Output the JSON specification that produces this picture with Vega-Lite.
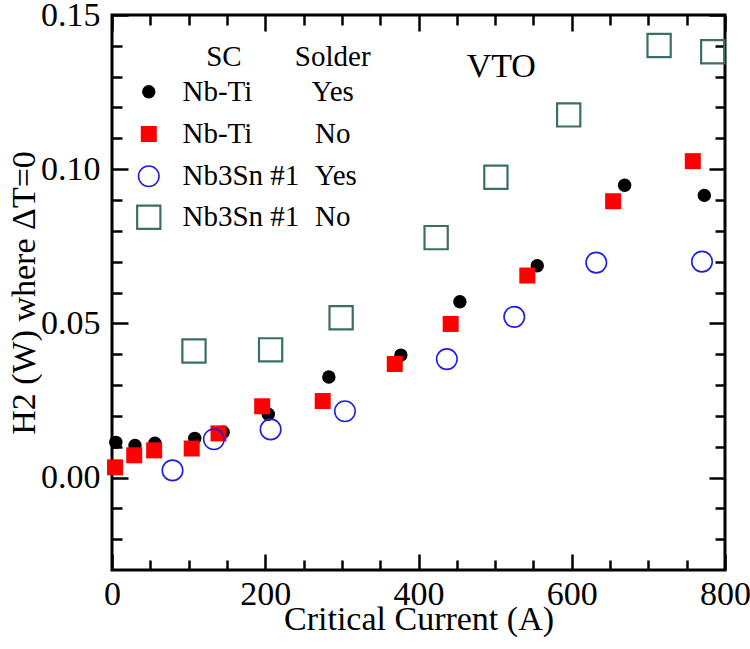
{
  "$schema": "https://vega.github.io/schema/vega-lite/v6.json",
  "width": 613,
  "height": 555,
  "autosize": "none",
  "padding": {"left": 112, "top": 15, "right": 25, "bottom": 79},
  "background": "white",
  "config": {
    "view": {"stroke": "black", "strokeWidth": 3},
    "axis": {
      "domain": false,
      "grid": false,
      "labelFont": "Liberation Serif",
      "labelFontSize": 34,
      "labelColor": "black",
      "tickColor": "black",
      "tickWidth": 2.5,
      "titleFont": "Liberation Serif",
      "titleFontSize": 34,
      "titleFontWeight": "normal",
      "titleColor": "black"
    },
    "text": {"font": "Liberation Serif", "color": "black"}
  },
  "datasets": {
    "pts": [
      {"series": "NbTi_Yes", "I": 5, "H2": 0.0114},
      {"series": "NbTi_Yes", "I": 30, "H2": 0.0104},
      {"series": "NbTi_Yes", "I": 56, "H2": 0.0111},
      {"series": "NbTi_Yes", "I": 108, "H2": 0.0127},
      {"series": "NbTi_Yes", "I": 145, "H2": 0.0147},
      {"series": "NbTi_Yes", "I": 204, "H2": 0.0205},
      {"series": "NbTi_Yes", "I": 283, "H2": 0.0326},
      {"series": "NbTi_Yes", "I": 377, "H2": 0.0397},
      {"series": "NbTi_Yes", "I": 454, "H2": 0.057},
      {"series": "NbTi_Yes", "I": 555, "H2": 0.0687},
      {"series": "NbTi_Yes", "I": 669, "H2": 0.0948},
      {"series": "NbTi_Yes", "I": 773, "H2": 0.0915},
      {"series": "NbTi_No", "I": 4, "H2": 0.0033},
      {"series": "NbTi_No", "I": 29, "H2": 0.0072},
      {"series": "NbTi_No", "I": 55, "H2": 0.0088},
      {"series": "NbTi_No", "I": 104, "H2": 0.0094},
      {"series": "NbTi_No", "I": 139, "H2": 0.0143},
      {"series": "NbTi_No", "I": 196, "H2": 0.0231},
      {"series": "NbTi_No", "I": 275, "H2": 0.0248},
      {"series": "NbTi_No", "I": 369, "H2": 0.0368},
      {"series": "NbTi_No", "I": 442, "H2": 0.0498},
      {"series": "NbTi_No", "I": 542, "H2": 0.0655},
      {"series": "NbTi_No", "I": 654, "H2": 0.0896},
      {"series": "NbTi_No", "I": 758, "H2": 0.1026},
      {"series": "Nb3Sn_Yes", "I": 79, "H2": 0.0023},
      {"series": "Nb3Sn_Yes", "I": 133, "H2": 0.0124},
      {"series": "Nb3Sn_Yes", "I": 207, "H2": 0.0156},
      {"series": "Nb3Sn_Yes", "I": 304, "H2": 0.0215},
      {"series": "Nb3Sn_Yes", "I": 437, "H2": 0.0384},
      {"series": "Nb3Sn_Yes", "I": 525, "H2": 0.0521},
      {"series": "Nb3Sn_Yes", "I": 632, "H2": 0.0697},
      {"series": "Nb3Sn_Yes", "I": 770, "H2": 0.07},
      {"series": "Nb3Sn_No", "I": 107, "H2": 0.041},
      {"series": "Nb3Sn_No", "I": 207, "H2": 0.0414},
      {"series": "Nb3Sn_No", "I": 299, "H2": 0.0518},
      {"series": "Nb3Sn_No", "I": 423, "H2": 0.0778},
      {"series": "Nb3Sn_No", "I": 501, "H2": 0.0974},
      {"series": "Nb3Sn_No", "I": 596, "H2": 0.1176},
      {"series": "Nb3Sn_No", "I": 714, "H2": 0.1401},
      {"series": "Nb3Sn_No", "I": 784, "H2": 0.1381}
    ],
    "legsym": [
      {"series": "NbTi_Yes", "I": 48, "H2": 0.1251},
      {"series": "NbTi_No", "I": 48, "H2": 0.1114},
      {"series": "Nb3Sn_Yes", "I": 48, "H2": 0.0977},
      {"series": "Nb3Sn_No", "I": 48, "H2": 0.0844}
    ],
    "legleft": [
      {"I": 92, "H2": 0.1251, "label": "Nb-Ti"},
      {"I": 92, "H2": 0.1114, "label": "Nb-Ti"},
      {"I": 92, "H2": 0.0977, "label": "Nb3Sn #1"},
      {"I": 92, "H2": 0.0844, "label": "Nb3Sn #1"}
    ],
    "legcenter": [
      {"I": 146, "H2": 0.1365, "label": "SC"},
      {"I": 288, "H2": 0.1365, "label": "Solder"},
      {"I": 288, "H2": 0.1251, "label": "Yes"},
      {"I": 288, "H2": 0.1114, "label": "No"},
      {"I": 292, "H2": 0.0977, "label": "Yes"},
      {"I": 288, "H2": 0.0844, "label": "No"}
    ],
    "vto": [
      {"I": 508, "H2": 0.1331, "label": "VTO"}
    ]
  },
  "resolve": {"axis": {"x": "independent", "y": "independent"}},
  "layer": [
    {
      "data": {"name": "pts"},
      "transform": [{"filter": "datum.series == 'NbTi_Yes'"}],
      "mark": {"type": "point", "shape": "circle", "filled": true, "size": 180, "color": "black", "opacity": 1},
      "encoding": {
        "x": {"field": "I", "type": "quantitative", "scale": {"domain": [0, 800], "nice": false, "zero": false},
          "axis": {"orient": "bottom", "values": [0, 200, 400, 600, 800], "tickSize": -16, "labelPadding": 23, "title": "Critical Current (A)", "titlePadding": -9, "labelFlush": false}},
        "y": {"field": "H2", "type": "quantitative", "scale": {"domain": [-0.03, 0.15], "nice": false, "zero": false},
          "axis": {"orient": "left", "values": [0, 0.05, 0.1, 0.15], "format": ".2f", "tickSize": -16, "labelPadding": 28, "title": "H2 (W) where ΔT=0", "titlePadding": -1, "labelFlush": false}}
      }
    },
    {
      "data": {"name": "pts"},
      "transform": [{"filter": "datum.series == 'NbTi_No'"}],
      "mark": {"type": "point", "shape": "square", "filled": true, "size": 256, "color": "#ff0000", "opacity": 1},
      "encoding": {
        "x": {"field": "I", "type": "quantitative",
          "axis": {"orient": "bottom", "values": [50, 100, 150, 250, 300, 350, 450, 500, 550, 650, 700, 750], "tickSize": -10, "labels": false, "title": null}},
        "y": {"field": "H2", "type": "quantitative",
          "axis": {"orient": "left", "values": [-0.02, -0.01, 0.01, 0.02, 0.03, 0.04, 0.06, 0.07, 0.08, 0.09, 0.11, 0.12, 0.13, 0.14], "tickSize": -10, "labels": false, "title": null}}
      }
    },
    {
      "data": {"name": "pts"},
      "transform": [{"filter": "datum.series == 'Nb3Sn_Yes'"}],
      "mark": {"type": "point", "shape": "circle", "filled": false, "size": 420, "stroke": "#1f1fe0", "strokeWidth": 1.6, "opacity": 1},
      "encoding": {
        "x": {"field": "I", "type": "quantitative",
          "axis": {"orient": "top", "values": [0, 200, 400, 600, 800], "tickSize": -16, "labels": false, "title": null}},
        "y": {"field": "H2", "type": "quantitative",
          "axis": {"orient": "right", "values": [0, 0.05, 0.1, 0.15], "tickSize": -16, "labels": false, "title": null}}
      }
    },
    {
      "data": {"name": "pts"},
      "transform": [{"filter": "datum.series == 'Nb3Sn_No'"}],
      "mark": {"type": "point", "shape": "square", "filled": false, "size": 540, "stroke": "#3b6e66", "strokeWidth": 2.2, "opacity": 1},
      "encoding": {
        "x": {"field": "I", "type": "quantitative",
          "axis": {"orient": "top", "values": [50, 100, 150, 250, 300, 350, 450, 500, 550, 650, 700, 750], "tickSize": -10, "labels": false, "title": null}},
        "y": {"field": "H2", "type": "quantitative",
          "axis": {"orient": "right", "values": [-0.02, -0.01, 0.01, 0.02, 0.03, 0.04, 0.06, 0.07, 0.08, 0.09, 0.11, 0.12, 0.13, 0.14], "tickSize": -10, "labels": false, "title": null}}
      }
    },
    {
      "data": {"name": "legsym"},
      "transform": [{"filter": "datum.series == 'NbTi_Yes'"}],
      "mark": {"type": "point", "shape": "circle", "filled": true, "size": 180, "color": "black", "opacity": 1},
      "encoding": {
        "x": {"field": "I", "type": "quantitative", "axis": null},
        "y": {"field": "H2", "type": "quantitative", "axis": null}
      }
    },
    {
      "data": {"name": "legsym"},
      "transform": [{"filter": "datum.series == 'NbTi_No'"}],
      "mark": {"type": "point", "shape": "square", "filled": true, "size": 256, "color": "#ff0000", "opacity": 1},
      "encoding": {
        "x": {"field": "I", "type": "quantitative", "axis": null},
        "y": {"field": "H2", "type": "quantitative", "axis": null}
      }
    },
    {
      "data": {"name": "legsym"},
      "transform": [{"filter": "datum.series == 'Nb3Sn_Yes'"}],
      "mark": {"type": "point", "shape": "circle", "filled": false, "size": 420, "stroke": "#1f1fe0", "strokeWidth": 1.6, "opacity": 1},
      "encoding": {
        "x": {"field": "I", "type": "quantitative", "axis": null},
        "y": {"field": "H2", "type": "quantitative", "axis": null}
      }
    },
    {
      "data": {"name": "legsym"},
      "transform": [{"filter": "datum.series == 'Nb3Sn_No'"}],
      "mark": {"type": "point", "shape": "square", "filled": false, "size": 540, "stroke": "#3b6e66", "strokeWidth": 2.2, "opacity": 1},
      "encoding": {
        "x": {"field": "I", "type": "quantitative", "axis": null},
        "y": {"field": "H2", "type": "quantitative", "axis": null}
      }
    },
    {
      "data": {"name": "legleft"},
      "mark": {"type": "text", "align": "left", "baseline": "middle", "fontSize": 29},
      "encoding": {
        "x": {"field": "I", "type": "quantitative", "axis": null},
        "y": {"field": "H2", "type": "quantitative", "axis": null},
        "text": {"field": "label"}
      }
    },
    {
      "data": {"name": "legcenter"},
      "mark": {"type": "text", "align": "center", "baseline": "middle", "fontSize": 29},
      "encoding": {
        "x": {"field": "I", "type": "quantitative", "axis": null},
        "y": {"field": "H2", "type": "quantitative", "axis": null},
        "text": {"field": "label"}
      }
    },
    {
      "data": {"name": "vto"},
      "mark": {"type": "text", "align": "center", "baseline": "middle", "fontSize": 34},
      "encoding": {
        "x": {"field": "I", "type": "quantitative", "axis": null},
        "y": {"field": "H2", "type": "quantitative", "axis": null},
        "text": {"field": "label"}
      }
    }
  ]
}
